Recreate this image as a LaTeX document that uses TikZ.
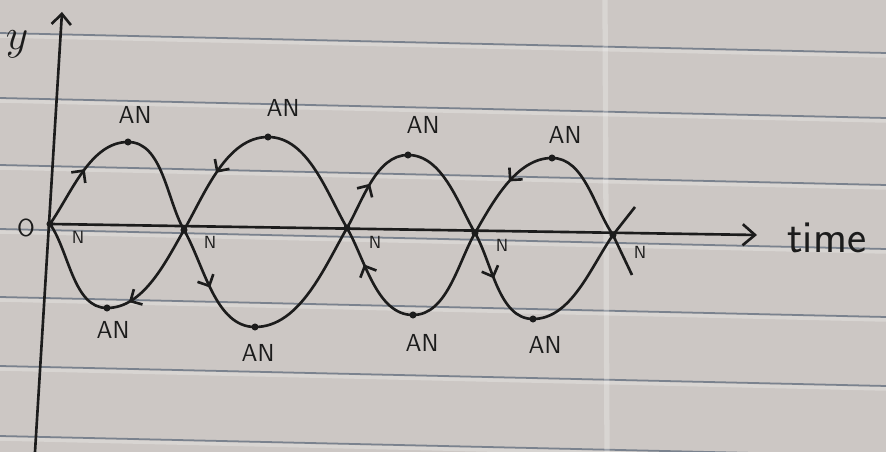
\documentclass[tikz,border=0pt]{standalone}
\usepackage{amsmath}
\usetikzlibrary{arrows.meta,decorations.markings}

\definecolor{paper}{RGB}{204,199,196}
\definecolor{rule}{RGB}{122,130,142}
\definecolor{ink}{RGB}{28,28,28}

\tikzset{
  wave/.style={ink, line width=1.5pt, looseness=0.85},
  fwd/.style={postaction={decorate, decoration={markings,
      mark=at position #1 with {\arrow{Straight Barb[length=5pt,width=10pt]}}}}},
  bwd/.style={postaction={decorate, decoration={markings,
      mark=at position #1 with {\arrowreversed{Straight Barb[length=5pt,width=10pt]}}}}},
  anlab/.style={ink, inner sep=0pt, font=\sffamily\fontsize{14}{16}\selectfont},
  nlab/.style={ink, inner sep=0pt, font=\sffamily\fontsize{10}{11}\selectfont},
}

\begin{document}
\begin{tikzpicture}[x=0.02cm, y=0.02cm]
  \useasboundingbox (0,0) rectangle (886,452);

  % Paper with ruled lines
  \fill[paper] (0,0) rectangle (886,452);
  \foreach \r in {419,354,287,223,155,86,16}{
    \draw[white, opacity=.25, line width=2pt] (0,\r-3) -- (886,\r-23);
    \draw[rule, line width=1pt] (0,\r) -- (886,\r-20);
  }
  \draw[white, opacity=.25, line width=3pt] (607,0) -- (605,452);

  % Nodes and antinodes
  \coordinate (O)  at (50,228);
  \coordinate (N1) at (184,222);
  \coordinate (N2) at (347,224);
  \coordinate (N3) at (475,219);
  \coordinate (N4) at (613,217);
  \coordinate (A1) at (128,310);
  \coordinate (A2) at (268,315);
  \coordinate (A3) at (408,297);
  \coordinate (A4) at (552,294);
  \coordinate (B1) at (107,144);
  \coordinate (B2) at (255,125);
  \coordinate (B3) at (413,137);
  \coordinate (B4) at (533,133);
  \coordinate (E1) at (632,177);
  \coordinate (E2) at (635,245);
  \coordinate (ybot) at (35,0);
  \coordinate (ytop) at (62,440);
  \coordinate (tend) at (757,217);

  % Axes
  \draw[wave, -{Straight Barb[length=6pt,width=11pt]}] (ybot) -- (ytop);
  \draw[wave, -{Straight Barb[length=7pt,width=12pt]}] (O) -- (tend);
  \node[ink, font=\fontsize{24}{26}\selectfont] (ylab) at (17,408) {$y$};
  \node[ink, font=\sffamily\fontsize{14}{16}\selectfont] (olab) at (26,224) {O};
  \node[ink, anchor=west, inner sep=0pt, font=\sffamily\fontsize{26}{28}\selectfont] (time) at (787,214) {time};

  % First wave (starts upwards)
  \draw[wave, fwd=0.55] (O) to[out=55, in=180] (A1);
  \draw[wave] (A1) to[out=0, in=120] (N1);
  \draw[wave, fwd=0.5] (N1) to[out=-60, in=180] (B2);
  \draw[wave] (B2) to[out=0, in=-120] (N2);
  \draw[wave, fwd=0.5] (N2) to[out=60, in=180] (A3);
  \draw[wave] (A3) to[out=0, in=120] (N3);
  \draw[wave, fwd=0.45] (N3) to[out=-60, in=180] (B4);
  \draw[wave] (B4) to[out=0, in=-125] (N4);
  \draw[wave] (N4) -- (E1);

  % Second wave (starts downwards)
  \draw[wave] (O) to[out=-55, in=180] (B1);
  \draw[wave, bwd=0.2] (B1) to[out=0, in=-120] (N1);
  \draw[wave, bwd=0.5] (N1) to[out=60, in=180] (A2);
  \draw[wave] (A2) to[out=0, in=120] (N2);
  \draw[wave, bwd=0.35] (N2) to[out=-60, in=180] (B3);
  \draw[wave] (B3) to[out=0, in=-120] (N3);
  \draw[wave, bwd=0.55] (N3) to[out=60, in=180] (A4);
  \draw[wave] (A4) to[out=0, in=125] (N4);
  \draw[wave] (N4) -- (E2);

  % Dots
  \foreach \p in {O,N1,N2,N3,N4,A1,A2,A3,A4,B1,B2,B3,B4}
    \fill[ink] (\p) circle (2pt);

  % Labels
  \node[anlab] (lA1) at (135,337) {AN};
  \node[anlab] (lA2) at (283,344) {AN};
  \node[anlab] (lA3) at (423,327) {AN};
  \node[anlab] (lA4) at (565,317) {AN};
  \node[anlab] (lB1) at (113,122) {AN};
  \node[anlab] (lB2) at (258,99)  {AN};
  \node[anlab] (lB3) at (422,109) {AN};
  \node[anlab] (lB4) at (545,107) {AN};
  \node[nlab] (lN0) at (78,215)  {N};
  \node[nlab] (lN1) at (210,210) {N};
  \node[nlab] (lN2) at (375,210) {N};
  \node[nlab] (lN3) at (502,207) {N};
  \node[nlab] (lN4) at (640,200) {N};
\end{tikzpicture}
\end{document}
